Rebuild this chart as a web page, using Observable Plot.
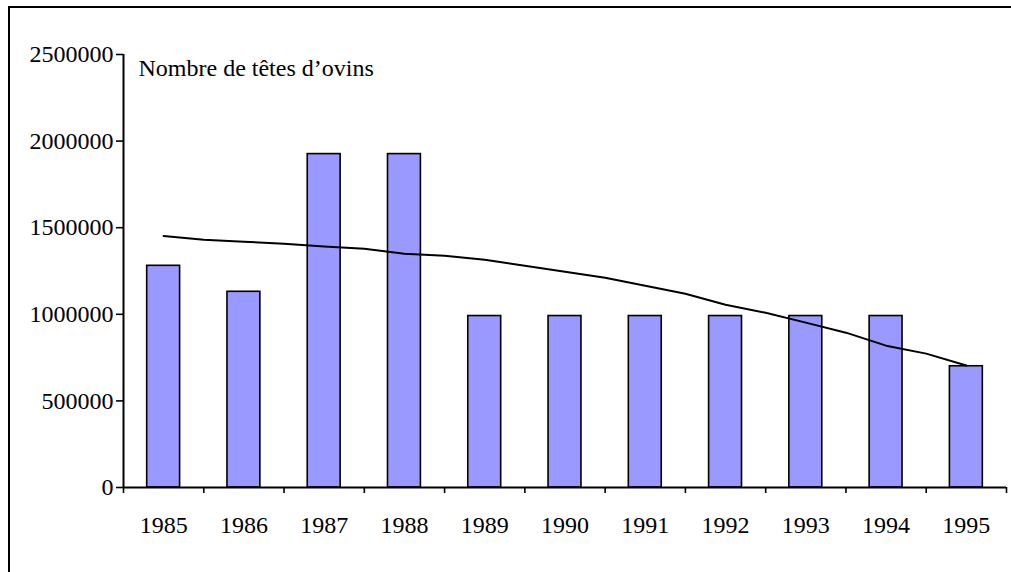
<!DOCTYPE html>
<html>
<head>
<meta charset="utf-8">
<script src="https://cdn.jsdelivr.net/npm/d3@7"></script>
<script src="https://cdn.jsdelivr.net/npm/@observablehq/plot@0.6"></script>
<style>
  html, body { margin: 0; padding: 0; background: #fff; overflow: hidden; width: 1011px; height: 572px; }
  #frame { position: absolute; left: 8px; top: 6px; width: 1100px; height: 700px; border: 2px solid #000; box-sizing: border-box; }
  #chart { position: absolute; left: 0; top: 0; }
  #chart svg { overflow: visible; }
</style>
</head>
<body>
<div id="frame"></div>
<div id="chart"></div>
<script>
const years = [1985, 1986, 1987, 1988, 1989, 1990, 1991, 1992, 1993, 1994, 1995];
const sheep = [1280000, 1130000, 1925000, 1925000, 990000, 990000, 990000, 990000, 990000, 990000, 700000];
const trendYears = [1985, 1985.5, 1986, 1986.5, 1987, 1987.5, 1988, 1988.5, 1989, 1989.5, 1990,
                    1990.5, 1991, 1991.5, 1992, 1992.5, 1993, 1993.5, 1994, 1994.5, 1995];
const trendValues = [1452000, 1430000, 1419000, 1407000, 1392000, 1378000, 1350000, 1338000, 1315000, 1280000, 1246000,
                     1211000, 1165000, 1119000, 1055000, 1009000, 952000, 894000, 819000, 773000, 704000];
const yTicks = [0, 500000, 1000000, 1500000, 2000000, 2500000];
const title = "Nombre de têtes d’ovins";

const bars = years.map((year, i) => ({year, value: sheep[i]}));
const trend = trendYears.map((year, i) => ({year, value: trendValues[i]}));
const xDomain = [years[0] - 0.5, years[years.length - 1] + 0.5];
const boundaries = years.map(y => y - 0.5).concat([years[years.length - 1] + 0.5]);

const chart = Plot.plot({
  width: 1011,
  height: 572,
  marginLeft: 123,
  marginRight: 5,
  marginTop: 54,
  marginBottom: 85,
  style: {fontFamily: "'Liberation Serif', 'Times New Roman', serif", fontSize: "24px", color: "#000", background: "transparent"},
  x: {type: "linear", domain: xDomain},
  y: {domain: [0, 2500000]},
  marks: [
    Plot.rectY(bars, {x1: d => d.year - 0.205, x2: d => d.year + 0.205, y: "value", fill: "#9999ff", stroke: "#000", strokeWidth: 1.6}),
    Plot.line(trend, {x: "year", y: "value", stroke: "#000", strokeWidth: 2}),
    Plot.ruleY([0], {stroke: "#000", strokeWidth: 2}),
    Plot.ruleX([xDomain[0]], {stroke: "#000", strokeWidth: 2}),
    Plot.axisY({ticks: yTicks, tickFormat: d => String(d), tickSize: 7, tickPadding: 3, strokeWidth: 1.6, label: null}),
    Plot.axisX({ticks: boundaries, tickFormat: () => "", tickSize: 6, strokeWidth: 1.6, label: null}),
    Plot.axisX({ticks: years, tickFormat: d => String(d), tickSize: 0, tickPadding: 28, label: null}),
    Plot.text([title], {frameAnchor: "top-left", textAnchor: "start", lineAnchor: "bottom", dx: 15, dy: 21, fontSize: 24, fill: "#000"})
  ]
});
document.getElementById("chart").appendChild(chart);
</script>
</body>
</html>
